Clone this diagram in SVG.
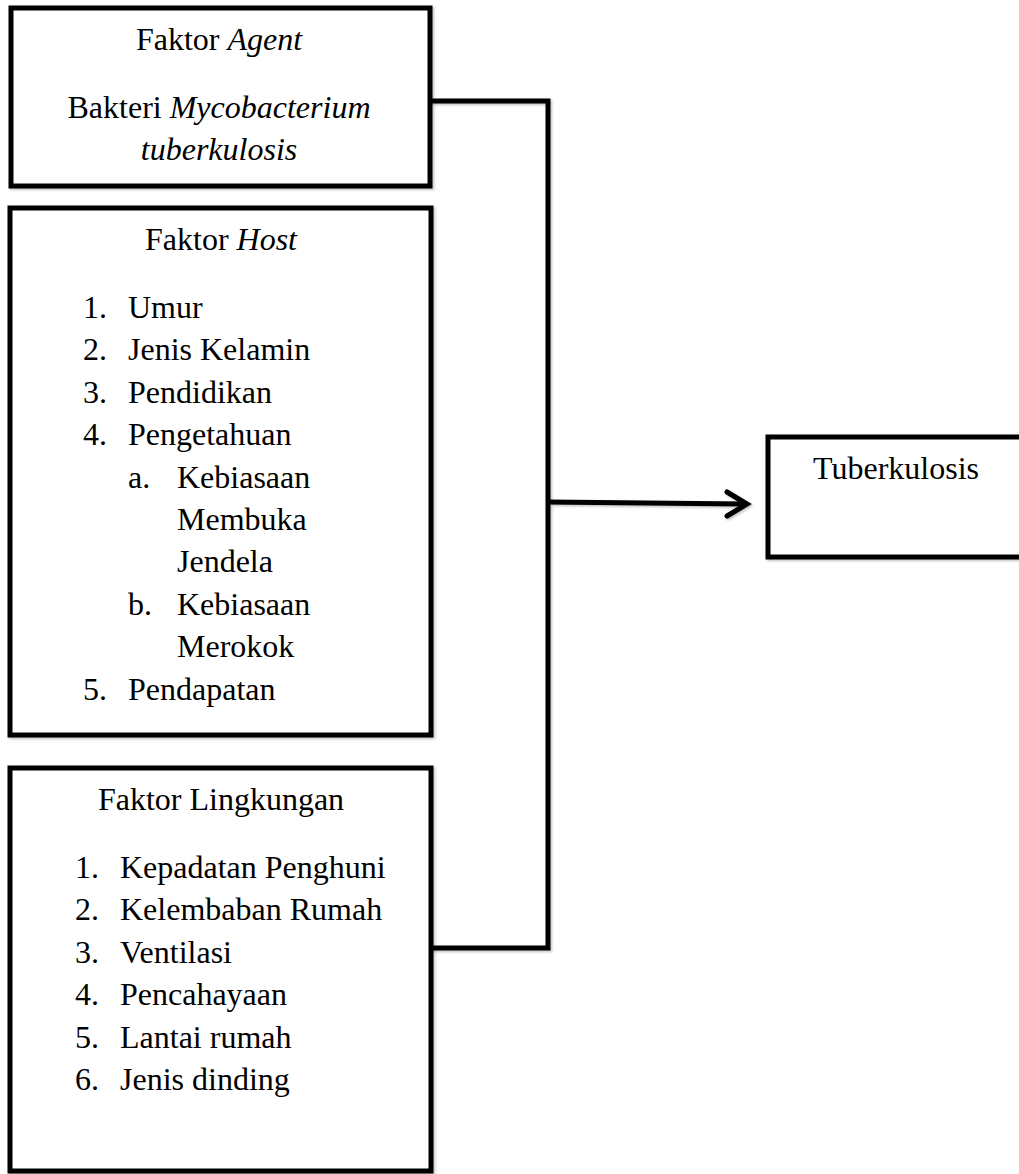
<svg xmlns="http://www.w3.org/2000/svg" width="1019" height="1174" viewBox="0 0 1019 1174">
<style>
.box{fill:#fff;stroke:#000;stroke-width:5}
.t{font-family:"Liberation Serif","Times New Roman",serif;font-size:32px;fill:#000}
.c{text-anchor:middle}
.i{font-style:italic}
.ln{fill:none;stroke:#000;stroke-width:5;stroke-linejoin:miter}
</style>
<defs>
<filter id="sh" x="-5%" y="-5%" width="110%" height="110%">
<feDropShadow dx="1.5" dy="1.5" stdDeviation="1" flood-color="#000" flood-opacity="0.25"/>
</filter>
</defs>
<rect width="1019" height="1174" fill="#fff"/>
<g id="connectors" filter="url(#sh)">
<polyline class="ln" points="430,101 548,101 548,948 430,948"/>
<line class="ln" x1="548" y1="502" x2="745" y2="504"/>
<polyline class="ln" points="727,492 747,504 727,516" stroke-linecap="round"/>
</g>
<g id="agent">
<rect class="box" x="11" y="8" width="419" height="178" filter="url(#sh)"/>
<text class="t c" x="219" y="50">Faktor <tspan class="i">Agent</tspan></text>
<text class="t c" x="219" y="118">Bakteri <tspan class="i">Mycobacterium</tspan></text>
<text class="t c i" x="219" y="160">tuberkulosis</text>
</g>
<g id="host">
<rect class="box" x="10" y="208" width="421" height="527" filter="url(#sh)"/>
<text class="t c" x="221" y="250">Faktor <tspan class="i">Host</tspan></text>
<text class="t" x="83" y="318">1.</text><text class="t" x="128" y="318">Umur</text>
<text class="t" x="83" y="360.4">2.</text><text class="t" x="128" y="360.4">Jenis Kelamin</text>
<text class="t" x="83" y="402.8">3.</text><text class="t" x="128" y="402.8">Pendidikan</text>
<text class="t" x="83" y="445.2">4.</text><text class="t" x="128" y="445.2">Pengetahuan</text>
<text class="t" x="128" y="487.6">a.</text><text class="t" x="177" y="487.6">Kebiasaan</text>
<text class="t" x="177" y="530">Membuka</text>
<text class="t" x="177" y="572.4">Jendela</text>
<text class="t" x="128" y="614.8">b.</text><text class="t" x="177" y="614.8">Kebiasaan</text>
<text class="t" x="177" y="657.2">Merokok</text>
<text class="t" x="83" y="699.6">5.</text><text class="t" x="128" y="699.6">Pendapatan</text>
</g>
<g id="lingkungan">
<rect class="box" x="10" y="768" width="421" height="403" filter="url(#sh)"/>
<text class="t c" x="221" y="810">Faktor Lingkungan</text>
<text class="t" x="75" y="878">1.</text><text class="t" x="120" y="878">Kepadatan Penghuni</text>
<text class="t" x="75" y="920.4">2.</text><text class="t" x="120" y="920.4">Kelembaban Rumah</text>
<text class="t" x="75" y="962.8">3.</text><text class="t" x="120" y="962.8">Ventilasi</text>
<text class="t" x="75" y="1005.2">4.</text><text class="t" x="120" y="1005.2">Pencahayaan</text>
<text class="t" x="75" y="1047.6">5.</text><text class="t" x="120" y="1047.6">Lantai rumah</text>
<text class="t" x="75" y="1090">6.</text><text class="t" x="120" y="1090">Jenis dinding</text>
</g>
<g id="tuberkulosis">
<rect class="box" x="768" y="437" width="270" height="120" filter="url(#sh)"/>
<text class="t" x="813" y="479">Tuberkulosis</text>
</g>
</svg>
